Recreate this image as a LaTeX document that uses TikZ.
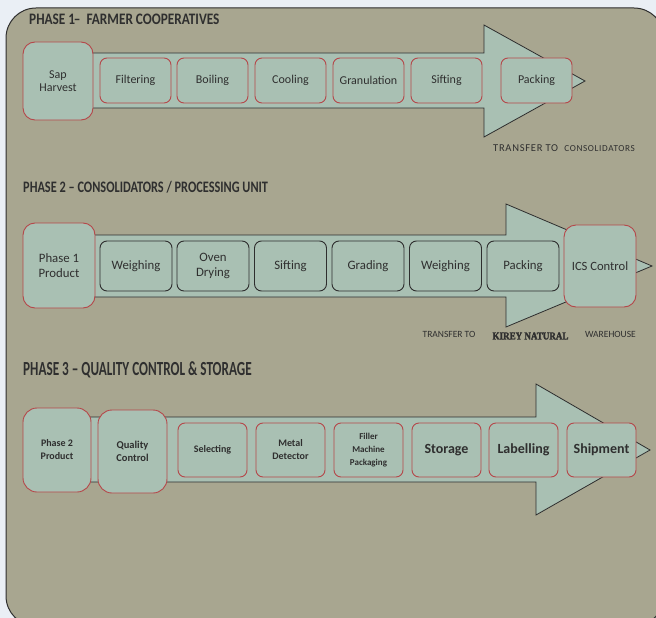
\documentclass[tikz,border=0pt]{standalone}
\usepackage{fontspec}
\setmainfont{Carlito}
\newfontfamily\kireyfont[FakeBold=2.5]{Liberation Serif}
\definecolor{bgout}{HTML}{EAEFF5}
\definecolor{panel}{HTML}{A8A690}
\definecolor{sage}{HTML}{A9C0B3}
\definecolor{redb}{HTML}{B5474A}
\definecolor{darkb}{HTML}{2E2E2E}
\definecolor{txt}{HTML}{2F2F2F}
\begin{document}
\begin{tikzpicture}[x=1pt,y=-1pt,
  box/.style={draw=redb, fill=sage, rounded corners=7pt, line width=0.9pt, inner sep=0pt,
    align=center, text=txt, font=\fontsize{12}{13.5}\selectfont},
  dbox/.style={box, draw=darkb, font=\fontsize{12.8}{14.5}\selectfont},
  bigbox/.style={box, rounded corners=12pt},
  arrowshape/.style={fill=sage, draw=darkb, line width=0.8pt, line join=miter},
  title/.style={anchor=base west, inner sep=0pt, text=txt, font=\bfseries\fontsize{16}{17}\selectfont},
  note/.style={inner sep=0pt, text=txt, font=\fontsize{10.5}{11}\selectfont}
]
\useasboundingbox (0,0) rectangle (656,618);
\fill[bgout] (0,0) rectangle (656,618);
\draw[fill=panel, draw=darkb, line width=1pt, rounded corners=30pt] (6,8) rectangle (664,626);

% ---------- Phase 1 ----------
\node[title] (t1) at (29,25) {\scalebox{0.83}[1]{PHASE 1\kern-1.5pt{}–\ \ FARMER COOPERATIVES}};
\draw[arrowshape] (90,53) -- (484,53) -- (484,25) -- (585,81) -- (484,137) -- (484,108) -- (90,108) -- cycle;
\node[bigbox, minimum width=70pt, minimum height=78pt] (sap) at (58,81) {Sap\\Harvest};
\node[box, minimum width=71pt, minimum height=45pt] (filt) at (135.5,80.5) {Filtering};
\node[box, minimum width=71pt, minimum height=45pt] (boil) at (212.5,80.5) {Boiling};
\node[box, minimum width=71pt, minimum height=45pt] (cool) at (290.5,80.5) {Cooling};
\node[box, minimum width=71pt, minimum height=45pt] (gran) at (368.5,80.5) {Granulation};
\node[box, minimum width=71pt, minimum height=45pt] (sift1) at (446.5,80.5) {Sifting};
\node[box, minimum width=71pt, minimum height=45pt] (pack1) at (536.5,80.5) {Packing};
\node[note, anchor=west] (tr1) at (493,148) {\addfontfeature{LetterSpace=7}TRANSFER TO\ \ {\fontsize{9.2}{10}\selectfont CONSOLIDATORS}};

% ---------- Phase 2 ----------
\node[title] (t2) at (23,192) {\scalebox{0.77}[1]{PHASE 2 – CONSOLIDATORS / PROCESSING UNIT}};
\draw[arrowshape] (90,235) -- (506,235) -- (506,204) -- (652,266) -- (506,327) -- (506,297) -- (90,297) -- cycle;
\node[bigbox, minimum width=72pt, minimum height=85pt, font=\fontsize{12.8}{14.5}\selectfont] (p1) at (59,265.5) {Phase 1\\Product};
\node[dbox, minimum width=72pt, minimum height=50pt] (wei1) at (136,266) {Weighing};
\node[dbox, minimum width=72pt, minimum height=50pt] (oven) at (213,266) {Oven\\Drying};
\node[dbox, minimum width=72pt, minimum height=50pt] (sift2) at (290.5,266) {Sifting};
\node[dbox, minimum width=72pt, minimum height=50pt] (grad) at (368,266) {Grading};
\node[dbox, minimum width=72pt, minimum height=50pt] (wei2) at (445.5,266) {Weighing};
\node[dbox, minimum width=72pt, minimum height=50pt] (pack2) at (523,266) {Packing};
\node[bigbox, minimum width=72pt, minimum height=82pt, font=\fontsize{12.6}{14}\selectfont] (ics) at (600,266) {ICS Control};
\node[note, font=\fontsize{9.5}{10}\selectfont] (tr2) at (449,334) {TRANSFER TO};
\node[note, font=\kireyfont\bfseries\fontsize{10.5}{11}\selectfont] (kir) at (530.5,336) {\scalebox{0.86}[1]{KIREY NATURAL}};
\node[note, font=\fontsize{9.5}{10}\selectfont] (wh) at (610.5,334) {WAREHOUSE};

% ---------- Phase 3 ----------
\node[title, font=\bfseries\fontsize{20}{21}\selectfont] (t3) at (23,375) {\scalebox{0.66}[1]{PHASE 3 – QUALITY CONTROL \& STORAGE}};
\draw[arrowshape] (90,417) -- (536,417) -- (536,384) -- (650,450) -- (536,515) -- (536,482) -- (90,482) -- cycle;
\node[box, rounded corners=14pt, minimum width=68pt, minimum height=84pt, font=\bfseries\fontsize{10}{13}\selectfont] (p2) at (57,450) {Phase 2\\Product};
\node[box, rounded corners=14pt, minimum width=69pt, minimum height=83pt, font=\fontsize{10.5}{13}\selectfont] (qc) at (132.5,451.5) {\textbf{Quality}\\\textbf{Control}};
\node[box, minimum width=69pt, minimum height=54pt, font=\bfseries\fontsize{10}{12}\selectfont] (sel) at (212.5,450) {Selecting};
\node[box, minimum width=69pt, minimum height=54pt, font=\bfseries\fontsize{10}{13}\selectfont] (met) at (290.5,450) {Metal\\Detector};
\node[box, minimum width=69pt, minimum height=54pt, font=\bfseries\fontsize{9}{13}\selectfont] (fil) at (368.5,450) {Filler\\Machine\\Packaging};
\node[box, minimum width=69pt, minimum height=54pt, font=\bfseries\fontsize{14}{15}\selectfont] (sto) at (446.5,450) {Storage};
\node[box, minimum width=69pt, minimum height=54pt, font=\bfseries\fontsize{14}{15}\selectfont] (lab) at (523.5,450) {Labelling};
\node[box, minimum width=69pt, minimum height=54pt, font=\bfseries\fontsize{14}{15}\selectfont] (ship) at (601.5,450) {Shipment};
\end{tikzpicture}
\end{document}
